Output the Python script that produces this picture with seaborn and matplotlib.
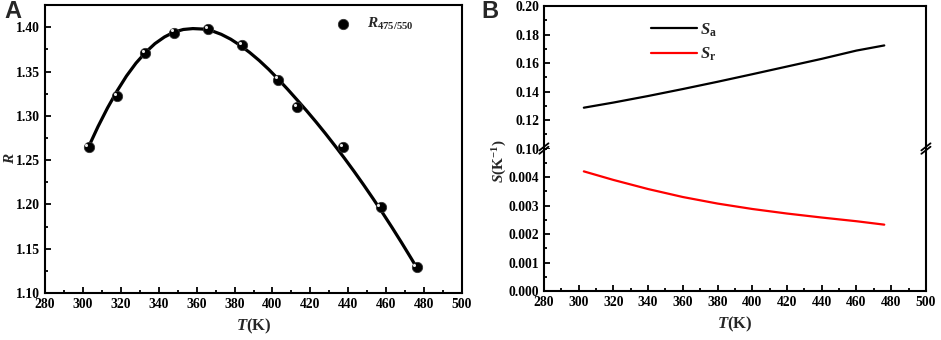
import numpy as np
import pandas as pd
import matplotlib
matplotlib.use('Agg')
import matplotlib.pyplot as plt
import matplotlib.transforms as mtransforms
from matplotlib.ticker import MultipleLocator, FormatStrFormatter
import seaborn as sns

# panel A: measured ratio and fitted curve
temp_pts = [303, 318, 333, 348, 366, 384, 403, 413, 437, 457, 476]
ratio_pts = [1.265, 1.322, 1.371, 1.394, 1.398, 1.380, 1.341, 1.310, 1.265, 1.197, 1.129]

temp_fit = [303, 308, 313, 318, 323, 328, 333, 338, 343, 348, 353, 358, 363, 368,
            373, 378, 383, 388, 393, 398, 403, 408, 413, 418, 423, 428, 433, 438,
            443, 448, 453, 458, 463, 468, 473, 476]
ratio_fit = [1.2650, 1.2880, 1.3090, 1.3280, 1.3450, 1.3595, 1.3715, 1.3815, 1.3890,
             1.3945, 1.3975, 1.3985, 1.3980, 1.3960, 1.3920, 1.3865, 1.3795, 1.3715,
             1.3625, 1.3525, 1.3415, 1.3300, 1.3180, 1.3058, 1.2931, 1.2799, 1.2662,
             1.2521, 1.2375, 1.2224, 1.2068, 1.1908, 1.1743, 1.1573, 1.1398, 1.1291]

# panel B: sensitivities
temp_s = [303, 320, 340, 360, 380, 400, 420, 440, 460, 476]
s_a = [0.1287, 0.1323, 0.1369, 0.1418, 0.1469, 0.1522, 0.1576, 0.1630, 0.1688, 0.1724]
s_r = [0.00420, 0.00390, 0.00358, 0.00330, 0.00307, 0.00288, 0.00272, 0.00258, 0.00245, 0.00233]

sns.set_style('ticks')
plt.rcParams['font.family'] = ['Liberation Serif', 'DejaVu Serif']
plt.rcParams['font.weight'] = 'bold'
plt.rcParams['mathtext.fontset'] = 'custom'
plt.rcParams['mathtext.rm'] = 'Liberation Serif:bold'
plt.rcParams['mathtext.it'] = 'Liberation Serif:italic:bold'
plt.rcParams['mathtext.bf'] = 'Liberation Serif:bold'
plt.rcParams['axes.linewidth'] = 1.5

fig = plt.figure(figsize=(9.41, 3.4), dpi=100)

def style_ax(ax):
    ax.tick_params(which='both', direction='in', top=False, right=False,
                   labelsize=9.8, width=1.3, colors='black')
    ax.tick_params(which='major', length=4.5)
    ax.tick_params(which='minor', length=2.5)
    for lab in ax.get_xticklabels() + ax.get_yticklabels():
        lab.set_fontweight('bold')
    for sp in ax.spines.values():
        sp.set_visible(True)
        sp.set_color('black')
        sp.set_linewidth(1.5)

# ---------- panel A ----------
axA = fig.add_axes([0.0478, 0.138, 0.4432, 0.847])
df_fit = pd.DataFrame({'T': temp_fit, 'R': ratio_fit})
df_pts = pd.DataFrame({'T': temp_pts, 'R': ratio_pts})
sns.lineplot(data=df_fit, x='T', y='R', ax=axA, color='black', linewidth=2.3)
sns.scatterplot(data=df_pts, x='T', y='R', ax=axA, color='black', s=55,
                edgecolor='#333333', linewidth=0.6, zorder=3,
                label=r'$R_{\mathrm{475/550}}$')
# little highlight on the "spheres"
hl = axA.transData + mtransforms.ScaledTranslation(-1.5/72, 1.5/72, fig.dpi_scale_trans)
axA.scatter(temp_pts, ratio_pts, s=5, color='#e8e8e8', linewidths=0, zorder=4, transform=hl)

axA.set_xlim(280, 500)
axA.set_ylim(1.10, 1.425)
axA.xaxis.set_major_locator(MultipleLocator(20))
axA.xaxis.set_minor_locator(MultipleLocator(10))
axA.yaxis.set_major_locator(MultipleLocator(0.05))
axA.yaxis.set_minor_locator(MultipleLocator(0.025))
axA.yaxis.set_major_formatter(FormatStrFormatter('%.2f'))
axA.set_xlabel(r'$T$(K)', fontsize=12, fontweight='bold', labelpad=4)
axA.set_ylabel(r'$R$', fontsize=11, fontweight='bold')
axA.yaxis.set_label_coords(-0.068, 0.47)
style_ax(axA)
axA.legend(loc='upper right', frameon=False, fontsize=11, handletextpad=0.6,
           borderaxespad=0.3, bbox_to_anchor=(0.91, 1.0))
fig.text(0.005, 0.965, 'A', fontsize=17, fontweight='bold', family='Liberation Sans',
         va='center')

# ---------- panel B (broken y axis) ----------
left, width = 0.578, 0.406
bottom, top, mid = 0.144, 0.982, 0.563
axB_hi = fig.add_axes([left, mid, width, top - mid])
axB_lo = fig.add_axes([left, bottom, width, mid - bottom])

df_s = pd.DataFrame({'T': temp_s, 'Sa': s_a, 'Sr': s_r})
sns.lineplot(data=df_s, x='T', y='Sa', ax=axB_hi, color='black', linewidth=1.6,
             label=r'$S_{\mathrm{a}}$')
sns.lineplot(data=df_s, x='T', y='Sr', ax=axB_lo, color='red', linewidth=1.6)
# proxy for legend entry of red line in upper axes
axB_hi.plot([], [], color='red', linewidth=1.6, label=r'$S_{\mathrm{r}}$')

for ax in (axB_hi, axB_lo):
    ax.set_xlim(280, 500)
    ax.xaxis.set_major_locator(MultipleLocator(20))
    ax.xaxis.set_minor_locator(MultipleLocator(10))
    ax.set_xlabel('')
    ax.set_ylabel('')

axB_hi.set_ylim(0.10, 0.20)
axB_hi.yaxis.set_major_locator(MultipleLocator(0.02))
axB_hi.yaxis.set_minor_locator(MultipleLocator(0.01))
axB_hi.yaxis.set_major_formatter(FormatStrFormatter('%.2f'))
axB_lo.set_ylim(0, 0.005)
axB_lo.yaxis.set_major_locator(MultipleLocator(0.001))
axB_lo.yaxis.set_minor_locator(MultipleLocator(0.0005))
axB_lo.yaxis.set_major_formatter(FormatStrFormatter('%.3f'))
style_ax(axB_hi)
style_ax(axB_lo)
axB_hi.spines['bottom'].set_visible(False)
axB_lo.spines['top'].set_visible(False)
axB_hi.tick_params(which='both', bottom=False, labelbottom=False)
# hide the 0.005 label at the top of the lower segment
axB_lo.set_yticks([0, 0.001, 0.002, 0.003, 0.004])
axB_lo.set_xlabel(r'$T$(K)', fontsize=12, fontweight='bold', labelpad=4)
fig.text(0.531, 0.526, r'$S$(K$^{\mathrm{-1}}$)', rotation=90, fontsize=11,
         fontweight='bold', ha='center', va='center')

# break marks
for xpos in (0, 1):
    for dy in (-0.012, 0.012):
        axB_lo.plot([xpos - 0.012, xpos + 0.012], [1 + dy - 0.025, 1 + dy + 0.025],
                    transform=axB_lo.transAxes, color='black', linewidth=1.3,
                    clip_on=False, zorder=5)

leg = axB_hi.legend(loc='upper left', frameon=False, fontsize=12,
                    bbox_to_anchor=(0.24, 1.0), handlelength=2.8,
                    handletextpad=0.15, labelspacing=0.45)
fig.text(0.512, 0.965, 'B', fontsize=17, fontweight='bold', family='Liberation Sans',
         va='center')

fig.savefig('out.png', dpi=100)
